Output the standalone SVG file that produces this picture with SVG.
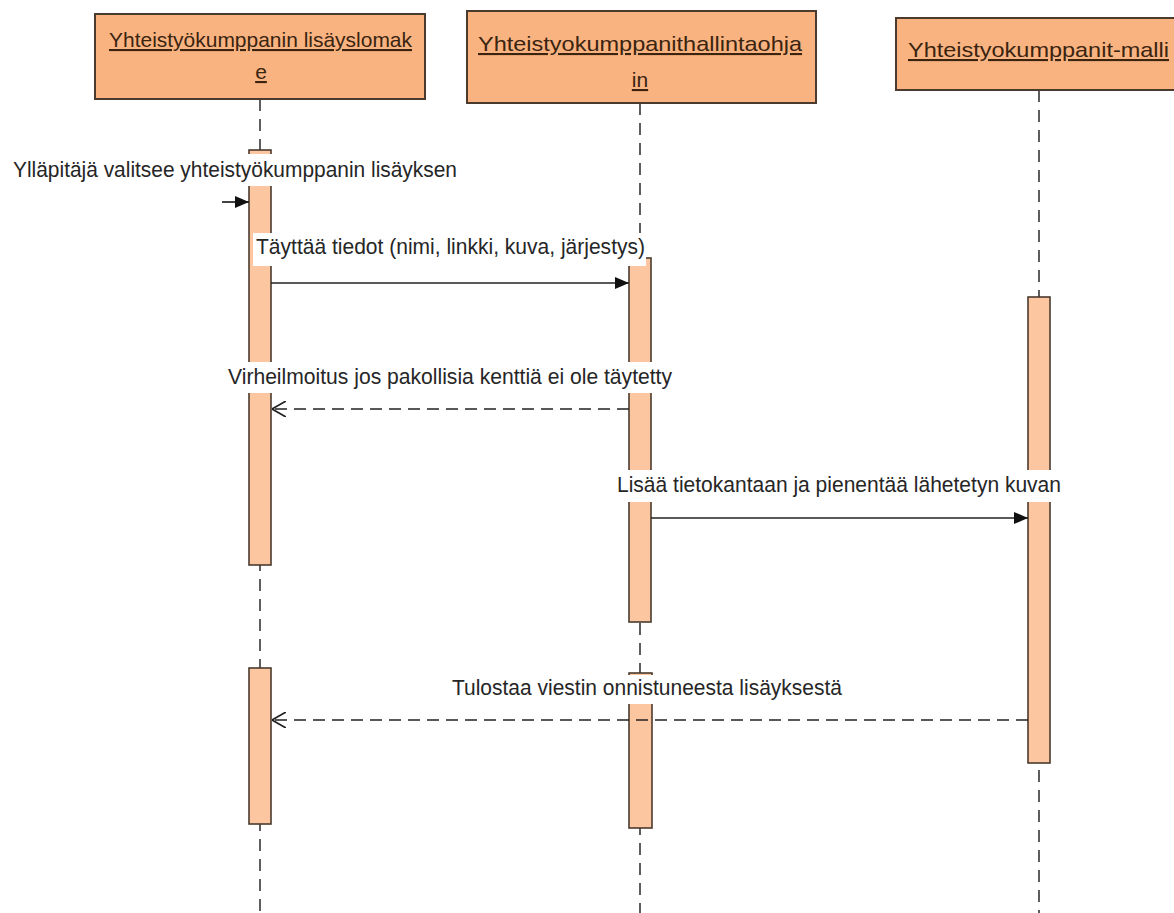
<svg xmlns="http://www.w3.org/2000/svg" width="1174" height="913" viewBox="0 0 1174 913">
<style>
.obj{fill:#F9B381;stroke:#4a3b2e;stroke-width:2}
.otxt{font-family:"Liberation Sans",Arial,sans-serif;font-size:21px;fill:#3a2410;text-decoration:underline}
.life{stroke:#4d4d4d;stroke-width:1.8;stroke-dasharray:12 8;fill:none}
.act{fill:#FCC7A0;stroke:#4a3b2e;stroke-width:1.6}
.lbg{fill:#fff}
.ltxt{font-family:"Liberation Sans",Arial,sans-serif;font-size:21.5px;fill:#262626}
.sync{stroke:#222;stroke-width:1.7;fill:none;marker-end:url(#fill)}
.ret{stroke:#222;stroke-width:1.7;fill:none;stroke-dasharray:12 7;marker-end:url(#open)}
</style>
<defs>
<marker id="fill" viewBox="0 0 14 12" refX="14" refY="6" markerWidth="14" markerHeight="12" markerUnits="userSpaceOnUse" orient="auto">
<path d="M0,0 L14,6 L0,12 z" fill="#111"/>
</marker>
<marker id="open" viewBox="0 0 14 16" refX="14" refY="8" markerWidth="14" markerHeight="16" markerUnits="userSpaceOnUse" orient="auto">
<path d="M0,0 L14,8 L0,16" fill="none" stroke="#222" stroke-width="1.7"/>
</marker>
</defs>
<rect width="1174" height="913" fill="#fff"/>

<g id="lifelines">
<line class="life" x1="260" y1="99" x2="260" y2="913"/>
<line class="life" x1="640" y1="103" x2="640" y2="913"/>
<line class="life" x1="1039" y1="90" x2="1039" y2="913"/>
</g>

<g id="node-lomake">
<rect class="obj" x="95" y="14" width="330" height="85"/>
<text class="otxt" x="109" y="47" textLength="303" lengthAdjust="spacingAndGlyphs">Yhteistyökumppanin lisäyslomak</text>
<text class="otxt" x="261" y="79" text-anchor="middle">e</text>
</g>
<g id="node-ohjain">
<rect class="obj" x="467" y="11" width="349" height="92"/>
<text class="otxt" x="478" y="51" textLength="324" lengthAdjust="spacingAndGlyphs">Yhteistyokumppanithallintaohja</text>
<text class="otxt" x="640" y="87" text-anchor="middle">in</text>
</g>
<g id="node-malli">
<rect class="obj" x="896" y="18" width="290" height="72"/>
<text class="otxt" x="908" y="57" textLength="261" lengthAdjust="spacingAndGlyphs">Yhteistyokumppanit-malli</text>
</g>

<g id="activations">
<rect class="act" x="249" y="150" width="22" height="415"/>
<rect class="act" x="629" y="258" width="22" height="364"/>
<rect class="act" x="1028" y="297" width="22" height="466"/>
<rect class="act" x="249" y="668" width="22" height="156"/>
<rect class="act" x="629" y="673" width="23" height="155"/>
</g>

<g id="labels">
<rect class="lbg" x="10" y="154" width="450" height="32"/>
<text class="ltxt" x="13" y="177" textLength="444" lengthAdjust="spacingAndGlyphs">Ylläpitäjä valitsee yhteistyökumppanin lisäyksen</text>
<rect class="lbg" x="253" y="233" width="393" height="33"/>
<text class="ltxt" x="256" y="254" textLength="389" lengthAdjust="spacingAndGlyphs">Täyttää tiedot (nimi, linkki, kuva, järjestys)</text>
<rect class="lbg" x="225" y="362" width="450" height="31"/>
<text class="ltxt" x="228" y="384" textLength="444" lengthAdjust="spacingAndGlyphs">Virheilmoitus jos pakollisia kenttiä ei ole täytetty</text>
<rect class="lbg" x="614" y="470" width="450" height="32"/>
<text class="ltxt" x="617" y="492" textLength="444" lengthAdjust="spacingAndGlyphs">Lisää tietokantaan ja pienentää lähetetyn kuvan</text>
<rect class="lbg" x="449" y="675" width="396" height="29"/>
<text class="ltxt" x="452" y="695" textLength="390" lengthAdjust="spacingAndGlyphs">Tulostaa viestin onnistuneesta lisäyksestä</text>
</g>

<g id="connectors">
<line class="sync" x1="222" y1="202" x2="249" y2="202"/>
<line class="sync" x1="271" y1="283" x2="629" y2="283"/>
<line class="ret" x1="629" y1="409" x2="272" y2="409"/>
<line class="sync" x1="651" y1="518" x2="1028" y2="518"/>
<line class="ret" x1="1028" y1="720" x2="272" y2="720"/>
</g>
</svg>
